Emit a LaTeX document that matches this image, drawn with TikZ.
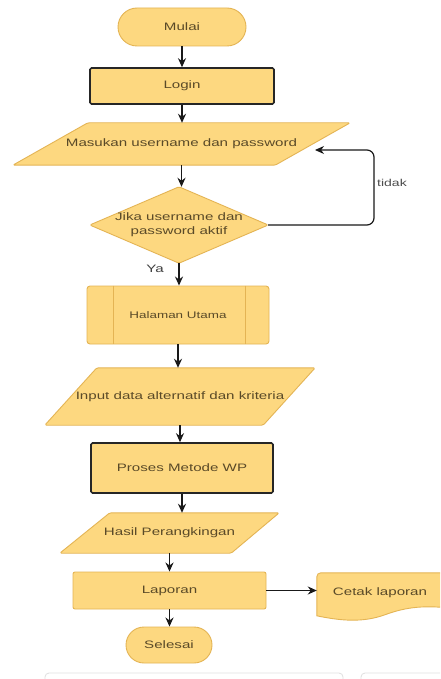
\documentclass[tikz,border=0pt]{standalone}
\usepackage{fontspec}
\setmainfont{Liberation Sans}[FakeStretch=1.4]
\usetikzlibrary{arrows.meta,backgrounds,calc}
\definecolor{boxfill}{RGB}{253,216,128}
\definecolor{boxline}{RGB}{228,180,84}
\definecolor{txt}{RGB}{90,74,40}
\definecolor{arrowc}{RGB}{25,25,25}
\tikzset{
 lbl/.style={font=\fontsize{10.8}{14}\selectfont, text=txt, inner sep=0pt, align=center},
 box/.style={lbl, draw=boxline, fill=boxfill, line width=0.9pt},
 boldbox/.style={lbl, draw=black!85, fill=boxfill, line width=1.6pt, rounded corners=1.5pt},
 shapeline/.style={draw=boxline, fill=boxfill, line width=0.9pt, rounded corners=1.5pt},
 flow/.style={draw=arrowc, line width=1.5pt, -{Stealth[length=9pt,width=8pt]}},
 ghost/.style={draw=black!12, line width=0.8pt, rounded corners=4pt},
}
\begin{document}
\begin{tikzpicture}[x=1pt,y=-1pt]
\useasboundingbox (0,0) rectangle (440,679);

\node[box, rounded corners=19pt, minimum width=128pt, minimum height=38pt] (mulai) at (182,27) {Mulai};
\node[boldbox, minimum width=184pt, minimum height=36pt] (login) at (182,86) {Login};
\node[lbl, minimum width=337pt, minimum height=42pt] (masukan) at (181.5,144) {Masukan username dan password};
\node[lbl, minimum width=178pt, minimum height=76pt] (jika) at (179,225) {Jika username dan\\password aktif};
\node[lbl, text=black!75] (ya) at (155,269) {Ya};
\node[box, rounded corners=3pt, minimum width=182pt, minimum height=58pt, font=\fontsize{9.6}{12}\selectfont] (halaman) at (178,315) {Halaman Utama};
\draw[boxline, line width=0.9pt] ($(halaman.north west)+(27,0)$) -- ($(halaman.south west)+(27,0)$);
\draw[boxline, line width=0.9pt] ($(halaman.north east)+(-24,0)$) -- ($(halaman.south east)+(-24,0)$);
\node[lbl, minimum width=270pt, minimum height=57pt] (input) at (180,396.5) {Input data alternatif dan kriteria};
\node[boldbox, minimum width=182pt, minimum height=50pt] (proses) at (182,468) {Proses Metode WP};
\node[lbl, minimum width=219pt, minimum height=40pt] (hasil) at (169.5,533) {Hasil Perangkingan};
\node[box, rounded corners=2pt, minimum width=193pt, minimum height=37pt] (laporan) at (169.5,590.5) {Laporan};
\node[lbl, minimum width=126pt, minimum height=40pt] (cetak) at (380,593) {Cetak laporan};
\node[box, rounded corners=18pt, minimum width=86pt, minimum height=36pt] (selesai) at (169,645) {Selesai};
\node[lbl, text=black!70, anchor=west, font=\fontsize{10}{12}\selectfont] (tidak) at (377,183) {tidak};

\coordinate (loopcorner) at (374,150);
\coordinate (loopend) at (315,150);

\draw[flow] (mulai.south) -- (login.north);
\draw[flow] (login.south) -- (login.south |- masukan.north);
\draw[flow] (masukan.south) -- (masukan.south |- jika.north);
\draw[flow] (jika.south) -- (jika.south |- halaman.north);
\draw[flow] (halaman.south) -- (halaman.south |- input.north);
\draw[flow] (input.south) -- (input.south |- proses.north);
\draw[flow] (proses.south) -- (proses.south |- hasil.north);
\draw[flow] (hasil.south) -- (laporan.north);
\draw[flow] (laporan.south) -- (laporan.south |- selesai.north);
\draw[flow] (laporan.east) -- (laporan.east -| cetak.west);
\draw[flow, line width=1.2pt, rounded corners=7pt] (jika.east) -| (loopcorner) -- (loopend);

\begin{scope}[on background layer]
 \fill[white] (0,0) rectangle (440,679);
 \clip (0,0) rectangle (440,679);
 \draw[shapeline] ($(masukan.north west)+(75,0)$) -- (masukan.north east)
   -- ($(masukan.south east)+(-75,0)$) -- (masukan.south west) -- cycle;
 \draw[shapeline] (jika.north) -- (jika.east) -- (jika.south) -- (jika.west) -- cycle;
 \draw[shapeline] ($(input.north west)+(52,0)$) -- (input.north east)
   -- ($(input.south east)+(-52,0)$) -- (input.south west) -- cycle;
 \draw[shapeline] ($(hasil.north west)+(50,0)$) -- (hasil.north east)
   -- ($(hasil.south east)+(-48,0)$) -- (hasil.south west) -- cycle;
 \draw[draw=boxline, fill=boxfill, line width=0.9pt]
   ($(cetak.north west)+(0,4)$) arc[start angle=180, end angle=90, radius=4pt]
   -- ($(cetak.north west)+(140,0)$) -- ($(cetak.north west)+(140,36)$)
   .. controls ($(cetak.north west)+(108,32)$) and ($(cetak.north west)+(90,34)$) .. ($(cetak.north west)+(68,42)$)
   .. controls ($(cetak.north west)+(46,50)$) and ($(cetak.north west)+(24,48)$) .. ($(cetak.north west)+(0,43)$)
   -- cycle;
 \draw[ghost] (45,673) rectangle (343,720);
 \draw[ghost] (361,673) rectangle (470,720);
\end{scope}
\end{tikzpicture}
\end{document}
